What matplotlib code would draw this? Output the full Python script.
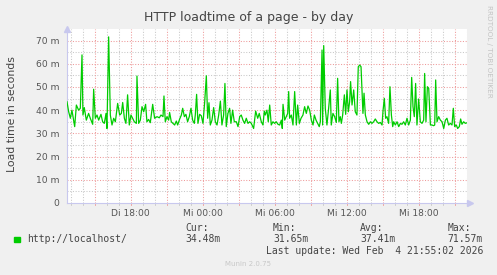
import matplotlib
matplotlib.use("Agg")
import matplotlib.pyplot as plt
import numpy as np

# time in hours since Tuesday 00:00, load time in milliseconds
hours = [
    12.70, 12.84, 12.98, 13.11, 13.34, 13.48, 13.67, 13.81, 13.95, 14.03,
    14.14, 14.31, 14.50, 14.64, 14.84, 14.92, 15.06, 15.20, 15.34, 15.53,
    15.67, 15.81, 15.95, 16.03, 16.17, 16.31, 16.45, 16.59, 16.73, 16.92,
    17.09, 17.23, 17.34, 17.48, 17.61, 17.75, 17.89, 18.03, 18.17, 18.31,
    18.48, 18.53, 18.67, 18.81, 18.95, 19.09, 19.25, 19.36, 19.50, 19.64,
    19.84, 20.00, 20.20, 20.39, 20.53, 20.70, 20.78, 20.89, 21.03, 21.17,
    21.25, 21.39, 21.53, 21.67, 21.81, 21.92, 22.09, 22.23, 22.34, 22.48,
    22.61, 22.75, 22.89, 23.03, 23.17, 23.31, 23.39, 23.50, 23.61, 23.75,
    23.89, 24.03, 24.17, 24.31, 24.42, 24.53, 24.64, 24.78, 24.92, 25.06,
    25.20, 25.34, 25.48, 25.61, 25.75, 25.86, 25.97, 26.11, 26.25, 26.36,
    26.50, 26.64, 26.81, 26.95, 27.09, 27.22, 27.36, 27.50, 27.64, 27.78,
    27.92, 28.06, 28.25, 28.42, 28.59, 28.72, 28.89, 29.03, 29.14, 29.22,
    29.36, 29.47, 29.59, 29.72, 29.86, 30.00, 30.14, 30.28, 30.42, 30.56,
    30.64, 30.70, 30.84, 30.97, 31.09, 31.17, 31.25, 31.39, 31.53, 31.67,
    31.81, 31.92, 32.06, 32.20, 32.36, 32.50, 32.64, 32.78, 32.92, 33.06,
    33.20, 33.31, 33.45, 33.59, 33.72, 33.81, 33.95, 34.00, 34.09, 34.22,
    34.36, 34.50, 34.64, 34.72, 34.86, 35.00, 35.14, 35.25, 35.36, 35.47,
    35.56, 35.67, 35.81, 35.92, 36.03, 36.14, 36.25, 36.33, 36.45, 36.59,
    36.72, 36.86, 36.97, 37.09, 37.20, 37.36, 37.45, 37.56, 37.70, 37.84,
    37.98, 38.11, 38.25, 38.39, 38.53, 38.67, 38.81, 38.95, 39.03, 39.14,
    39.25, 39.36, 39.50, 39.61, 39.73, 39.84, 39.92, 40.06, 40.20, 40.34,
    40.48, 40.61, 40.75, 40.89, 41.03, 41.17, 41.31, 41.42, 41.53, 41.64,
    41.75, 41.86, 42.00, 42.14, 42.28, 42.42, 42.50, 42.61, 42.73, 42.84,
    42.98, 43.11, 43.25, 43.34, 43.42, 43.53, 43.67, 43.81, 43.95, 44.09,
    44.23, 44.36, 44.50, 44.64, 44.78, 44.89, 45.00, 45.14, 45.25, 45.39,
    45.50, 45.61, 45.75, 45.89, 45.98,
]
load_ms = [
    43.6, 39.3, 36.5, 40.0, 32.9, 42.2, 40.0, 40.8, 63.8, 37.9,
    41.1, 35.7, 38.6, 36.5, 33.9, 49.0, 36.5, 37.9, 35.7, 38.2,
    35.0, 34.3, 38.6, 32.1, 71.57, 37.9, 33.6, 36.5, 35.0, 42.9,
    37.9, 38.6, 43.3, 36.5, 34.3, 46.6, 33.6, 37.9, 36.5, 35.0,
    34.3, 54.7, 34.3, 35.7, 41.5, 39.3, 42.5, 35.0, 36.0, 34.6,
    42.5, 36.5, 37.2, 36.7, 37.9, 37.2, 46.1, 35.0, 37.2, 35.7,
    39.0, 35.0, 34.3, 33.6, 35.3, 33.6, 36.2, 37.9, 40.8, 37.2,
    38.2, 35.0, 37.2, 40.8, 35.7, 34.3, 37.9, 46.8, 34.3, 38.2,
    37.6, 34.3, 43.3, 54.8, 36.5, 43.2, 33.6, 35.7, 41.1, 35.0,
    33.6, 37.9, 43.9, 33.6, 37.9, 51.5, 32.9, 38.6, 40.8, 34.3,
    40.0, 35.0, 35.0, 32.9, 37.2, 37.9, 35.7, 34.3, 36.5, 34.3,
    35.0, 34.3, 32.1, 39.6, 36.5, 38.6, 35.0, 33.6, 39.6, 37.9,
    40.0, 35.0, 42.2, 33.6, 35.0, 34.3, 35.0, 33.9, 33.6, 35.7,
    32.1, 42.5, 35.7, 37.2, 38.6, 48.0, 36.5, 37.9, 33.6, 48.0,
    33.6, 42.2, 34.3, 36.5, 37.9, 41.5, 38.6, 41.8, 40.0, 35.7,
    33.6, 37.9, 35.7, 34.3, 32.9, 35.0, 65.9, 33.6, 67.8, 40.8,
    33.6, 40.8, 48.7, 33.6, 38.6, 37.2, 34.7, 53.7, 35.0, 37.2,
    34.3, 37.9, 46.6, 38.2, 48.7, 39.3, 43.6, 52.3, 42.2, 48.7,
    39.3, 37.9, 58.7, 59.4, 58.7, 38.6, 47.3, 37.9, 35.0, 33.9,
    35.0, 34.3, 35.0, 36.2, 35.0, 34.3, 34.7, 33.6, 39.6, 45.1,
    36.5, 37.2, 34.3, 50.1, 37.9, 32.9, 35.0, 33.6, 35.0, 32.9,
    34.3, 33.9, 35.0, 33.6, 36.5, 33.6, 35.7, 54.1, 41.5, 37.2,
    51.5, 33.6, 44.8, 35.0, 34.3, 35.7, 55.8, 35.0, 50.1, 49.4,
    33.6, 33.6, 33.3, 33.6, 53.0, 35.0, 37.2, 35.7, 35.0, 32.1,
    35.7, 36.5, 33.6, 34.3, 33.6, 40.8, 32.9, 33.6, 32.1, 32.9,
    36.2, 33.9, 35.0, 34.3, 34.48,
]

y_ticks = [0, 10, 20, 30, 40, 50, 60, 70]
y_tick_labels = ["0", "10 m", "20 m", "30 m", "40 m", "50 m", "60 m", "70 m"]
x_ticks = [18, 24, 30, 36, 42]
x_tick_labels = ["Di 18:00", "Mi 00:00", "Mi 06:00", "Mi 12:00", "Mi 18:00"]

series_name = "http://localhost/"
stat_names = ["Cur:", "Min:", "Avg:", "Max:"]
stat_values = ["34.48m", "31.65m", "37.41m", "71.57m"]

W, H = 497, 275
fig = plt.figure(figsize=(W / 100, H / 100), dpi=100, facecolor="#F0F0F0")

x0, x1 = 67, 467
ytop, ybot = 28.9, 203
ax = fig.add_axes([x0 / W, 1 - ybot / H, (x1 - x0) / W, (ybot - ytop) / H])
ax.set_facecolor("white")
ax.set_xlim(12.70, 46.03)
ax.set_ylim(0, 75)

major_col = "#EE9A9A"
minor_col = "#C8C8C8"
dot = (0, (1, 1.6))
# horizontal grid
for v in np.arange(5, 75, 10):
    ax.axhline(v, color=minor_col, lw=0.75, ls=dot, zorder=1)
for v in y_ticks[1:]:
    ax.axhline(v, color=major_col, lw=0.75, ls=dot, zorder=1.5)
# vertical grid
for h in range(13, 47):
    if h % 3 == 0:
        ax.axvline(h, color=major_col, lw=0.75, ls=dot, zorder=1.5)
    else:
        ax.axvline(h, color=minor_col, lw=0.75, ls=dot, zorder=1)

ax.plot(hours, load_ms, color="#00CC00", lw=0.9, zorder=3)

for s in ["top", "right"]:
    ax.spines[s].set_visible(False)
axis_col = "#C8C8EE"
ax.spines["left"].set_color(axis_col)
ax.spines["bottom"].set_color(axis_col)
ax.spines["left"].set_linewidth(0.8)
ax.spines["bottom"].set_linewidth(0.8)

ax.set_yticks(y_ticks)
ax.set_yticklabels(y_tick_labels)
ax.set_xticks(x_ticks)
ax.set_xticklabels(x_tick_labels)
ax.tick_params(axis="y", length=0, pad=5.5, labelsize=6.6, labelcolor="#555555")
ax.tick_params(axis="x", length=0, pad=4.0, labelsize=6.6, labelcolor="#555555")
# small tick marks below x axis
for h in range(13, 47):
    ax.plot([h, h], [0, -1.0], color=major_col if h % 3 == 0 else "#C8C8C8",
            lw=0.6, clip_on=False, zorder=2)

# arrows at axis ends
ax.plot([0], [1.0], marker="^", color=axis_col, ms=4, transform=ax.transAxes,
        clip_on=False, zorder=4)
ax.plot([1.0075], [0], marker=">", color=axis_col, ms=4, transform=ax.transAxes,
        clip_on=False, zorder=4)

fig.text(248.5 / W, 1 - 18 / H, "HTTP loadtime of a page - by day", ha="center",
         va="center", fontsize=9, color="#444444")
fig.text(12 / W, 1 - 114 / H, "Load time in seconds", rotation=90, ha="center",
         va="center", fontsize=7.8, color="#444444")
fig.text(489 / W, 1 - 5 / H, "RRDTOOL / TOBI OETIKER", rotation=-90, ha="center",
         va="top", fontsize=5.2, color="#C4C4C4")

mono = "DejaVu Sans Mono"
fs = 7.0
tc = "#444444"
fig.patches.append(plt.Rectangle((14 / W, 1 - 242 / H), 5.5 / W, 5.5 / H,
                                 transform=fig.transFigure, color="#00CC00"))
fig.text(27 / W, 1 - 239.5 / H, series_name, family=mono, fontsize=fs, color=tc,
         ha="left", va="center")
stat_x = [185, 273, 360, 447.5]
for sx, nm, vl in zip(stat_x, stat_names, stat_values):
    fig.text(sx / W, 1 - 228 / H, nm, family=mono, fontsize=fs, color=tc,
             ha="left", va="center")
    fig.text(sx / W, 1 - 239.5 / H, vl, family=mono, fontsize=fs, color=tc,
             ha="left", va="center")
fig.text(483 / W, 1 - 251 / H, "Last update: Wed Feb  4 21:55:02 2026", family=mono,
         fontsize=fs, color=tc, ha="right", va="center")
fig.text(248 / W, 1 - 264 / H, "Munin 2.0.75", fontsize=5, color="#C8C8C8",
         ha="center", va="center")

fig.savefig("out.png", dpi=100, facecolor=fig.get_facecolor())
